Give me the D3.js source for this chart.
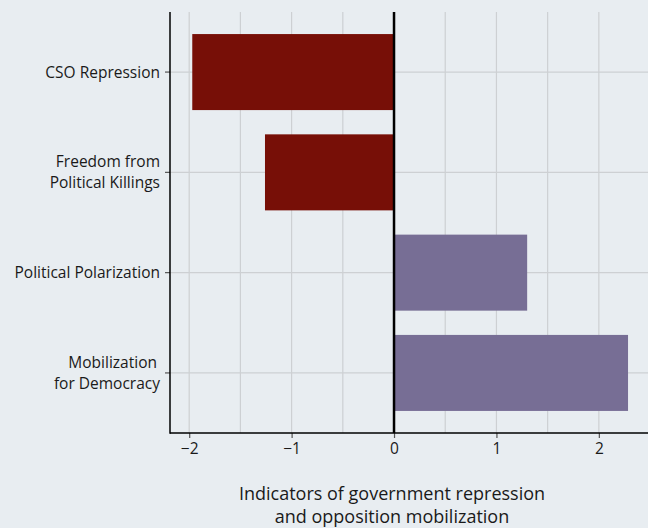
<!DOCTYPE html>
<html><head><meta charset="utf-8">
<script src="https://cdn.jsdelivr.net/npm/d3@7"></script>
<style>
html,body{margin:0;padding:0;background:#e8edf1;}
svg{display:block;}
text{font-family:"Open Sans","Noto Sans",sans-serif;fill:#1a1a1a;}
</style></head>
<body>
<svg id="chart" width="648" height="528"></svg>
<script>
const categories = [["CSO Repression"], ["Freedom from", "Political Killings"], ["Political Polarization"], ["Mobilization", "for Democracy"]];
const values = [-1.97, -1.26, 1.30, 2.285];
const xTicks = [-2, -1, 0, 1, 2];
const xGrid = [-2, -1.5, -1, -0.5, 0.5, 1, 1.5, 2];
const titleLines = ["Indicators of government repression", "and opposition mobilization"];

(function() {
const W = 648, H = 528;
const pLeft = 170, pRight = 648, pTop = 12, pBottom = 433;
const svg = d3.select("#chart");
svg.append("rect").attr("width", W).attr("height", H).attr("fill", "#e8edf1");

const x = d3.scaleLinear().domain([-2.1875, 2.48]).range([pLeft, pRight]);
const y = d3.scaleBand().domain(d3.range(categories.length)).range([pTop, pBottom])
  .paddingInner(0.242).paddingOuter(0.22);

// gridlines
svg.append("g").selectAll("line").data(xGrid).join("line")
  .attr("x1", d => x(d)).attr("x2", d => x(d)).attr("y1", pTop).attr("y2", pBottom)
  .attr("stroke", "#cdd0d3").attr("stroke-width", 1.2);
svg.append("g").selectAll("line").data(d3.range(categories.length)).join("line")
  .attr("x1", pLeft).attr("x2", pRight)
  .attr("y1", i => y(i) + y.bandwidth()/2).attr("y2", i => y(i) + y.bandwidth()/2)
  .attr("stroke", "#cdd0d3").attr("stroke-width", 1.2);

// bars
svg.append("g").selectAll("rect").data(values).join("rect")
  .attr("x", d => x(Math.min(0, d)))
  .attr("width", d => Math.abs(x(d) - x(0)))
  .attr("y", (d, i) => y(i))
  .attr("height", y.bandwidth())
  .attr("fill", d => d < 0 ? "#770f07" : "#776e95");

// zero line
svg.append("line").attr("x1", x(0)).attr("x2", x(0)).attr("y1", pTop).attr("y2", pBottom)
  .attr("stroke", "#000").attr("stroke-width", 2.5);

// axes
const xAxis = svg.append("g").attr("transform", `translate(0,${pBottom})`)
  .call(d3.axisBottom(x).tickValues(xTicks).tickSize(5).tickPadding(5)
    .tickFormat(d => d < 0 ? "\u2212" + Math.abs(d) : String(d)));
xAxis.select(".domain").remove();
xAxis.selectAll(".tick line").attr("stroke", "#555").attr("stroke-width", 1.2);
xAxis.selectAll(".tick text").attr("font-size", 15.5).attr("font-family", "Open Sans").attr("fill", "#1a1a1a");

const yAxis = svg.append("g").attr("transform", `translate(${pLeft},0)`)
  .call(d3.axisLeft(y).tickSize(5).tickPadding(6).tickFormat(""));
yAxis.select(".domain").remove();
yAxis.selectAll(".tick line").attr("stroke", "#555").attr("stroke-width", 1.2);
yAxis.selectAll(".tick").each(function(i) {
  const lines = categories[i];
  const g = d3.select(this);
  const lh = 21;
  lines.forEach((l, k) => {
    const off = (k - (lines.length - 1) / 2) * lh;
    g.append("text").attr("x", (i === 3 && k === 0) ? -13 : -10).attr("y", off).attr("dy", "0.35em")
      .attr("text-anchor", "end").attr("font-size", 15.5).attr("fill", "#1a1a1a").text(l);
  });
});

// axis lines
svg.append("line").attr("x1", pLeft).attr("x2", pLeft).attr("y1", pTop).attr("y2", pBottom + 0.75)
  .attr("stroke", "#000").attr("stroke-width", 1.5);
svg.append("line").attr("x1", pLeft).attr("x2", pRight).attr("y1", pBottom).attr("y2", pBottom)
  .attr("stroke", "#000").attr("stroke-width", 1.5);

// title
titleLines.forEach((l, k) => {
  svg.append("text").attr("text-anchor", "middle").attr("font-size", 18)
    .attr("x", 392).attr("y", 500 + k * 23).text(l);
});
})();
</script>
</body></html>
